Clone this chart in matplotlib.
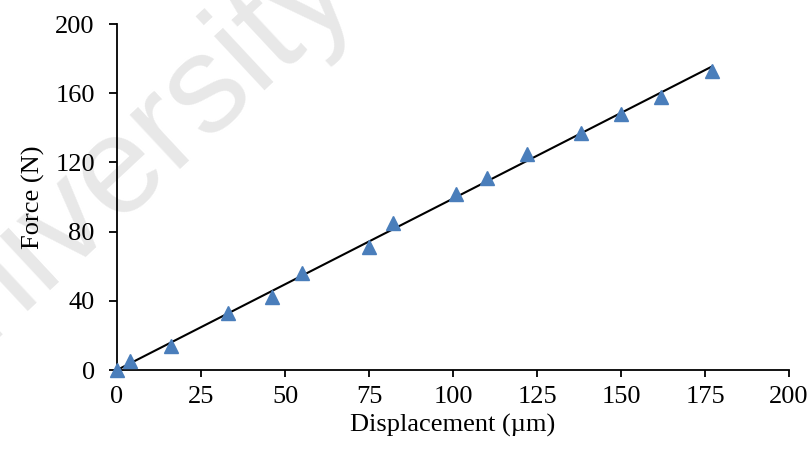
import numpy as np
import matplotlib
matplotlib.use('Agg')
import matplotlib.pyplot as plt

# data
displacement = [0, 4, 16, 33, 46, 55, 75, 82, 101, 110, 122, 138, 150, 162, 177]
force = [0, 5, 14, 33, 42, 56, 71, 85, 102, 111, 125, 137, 148, 158, 173]
x_ticks = [0, 25, 50, 75, 100, 125, 150, 175, 200]
y_ticks = [0, 40, 80, 120, 160, 200]

plt.rcParams['font.family'] = ['Liberation Serif', 'DejaVu Serif']

fig = plt.figure(figsize=(8.11, 4.53), dpi=100)
ax = fig.add_axes([0.1443, 0.1832, 0.8286, 0.7638])

# faint watermark behind everything
fig.text(0.135, 0.613, 'University', fontsize=100, color='#e8e8e8',
         family='Liberation Sans', rotation=43, ha='center', va='center',
         zorder=-5)
ax.patch.set_alpha(0)

x = np.array(displacement, dtype=float)
y = np.array(force, dtype=float)
slope = (x * y).sum() / (x * x).sum()
fx = np.array([0, x.max()])
ax.plot(fx, slope * fx, color='black', lw=1.5, zorder=2)
ax.plot(x, y, linestyle='none', marker='^', markersize=10,
        color='#4a7ebb', zorder=3, clip_on=False)

ax.set_xlim(0, 200)
ax.set_ylim(0, 200)
ax.set_xticks(x_ticks)
ax.set_yticks(y_ticks)
ax.spines['top'].set_visible(False)
ax.spines['right'].set_visible(False)
for s in ('left', 'bottom'):
    ax.spines[s].set_linewidth(1.3)
ax.tick_params(axis='x', direction='out', length=5, width=1.3,
               labelsize=19, pad=6.5)
ax.tick_params(axis='y', direction='out', length=6, width=1.3,
               labelsize=19, pad=10)
ax.set_xlabel('Displacement (µm)', fontsize=19, labelpad=4)
ax.set_ylabel('Force (N)', fontsize=19, labelpad=7)

fig.savefig('out.png', dpi=100)
